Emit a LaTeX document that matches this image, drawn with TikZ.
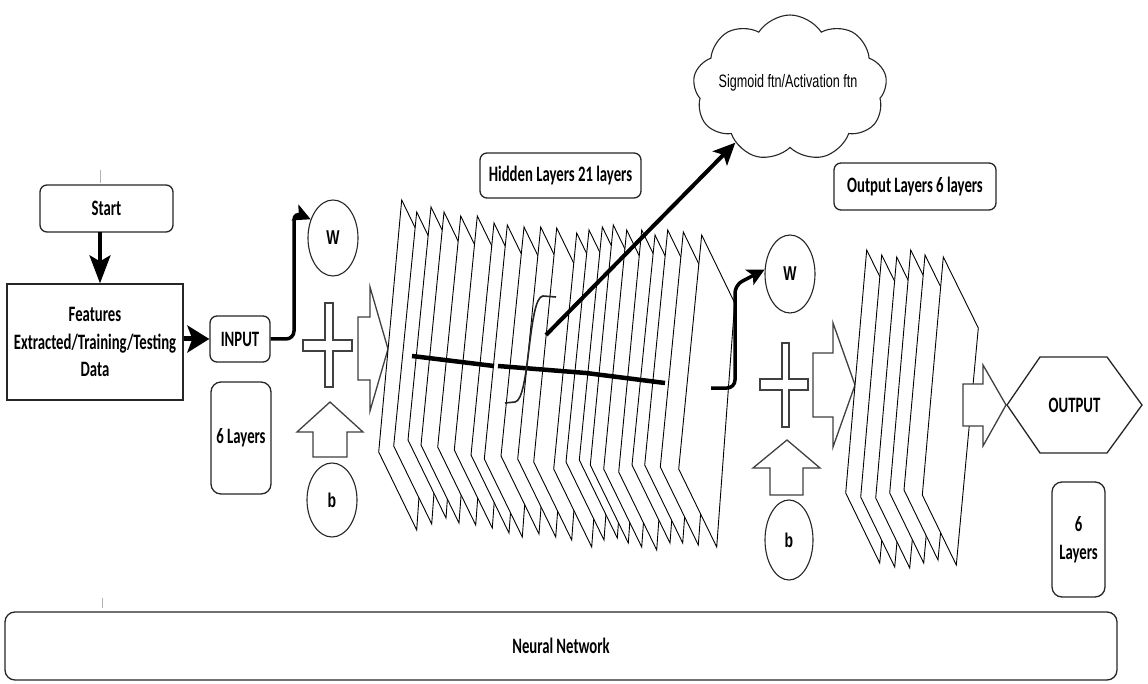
\documentclass[tikz,border=0pt]{standalone}
\usepackage{fontspec}
\usetikzlibrary{arrows.meta,shapes.geometric,shapes.symbols,calc}
\newfontfamily\lblfont{Carlito}[FakeStretch=0.67]
\newfontfamily\arfont{Liberation Sans}[FakeStretch=0.7]
\begin{document}
\begin{tikzpicture}[x=1pt,y=-1pt,
  box/.style={draw=black!85, line width=1.3pt, rounded corners=7pt, fill=white, inner sep=0pt, align=center, font=\lblfont\bfseries\fontsize{22}{27.5}\selectfont},
  circ/.style={draw=black!85, line width=1.1pt, ellipse, inner sep=0pt, font=\arfont\bfseries\fontsize{20}{22}\selectfont},
  layer/.style={draw=black, line width=0.9pt, fill=white, line join=miter},
  blk/.style={draw=black!75, line width=1.3pt, fill=white},
  conn/.style={line width=3.5pt, -{Stealth[length=17pt,width=17pt,inset=4pt]}},
]
\useasboundingbox (0,0) rectangle (1148,684);
\fill[white] (0,0) rectangle (1148,684);
% faint ticks
\draw[black!30, line width=0.8pt] (100,170) -- (100,183);
\draw[black!30, line width=0.8pt] (102,598) -- (102,608);

% left column
\node[box, minimum width=133pt, minimum height=47pt] (start) at (106.5,208.5) {Start};
\node[box, rounded corners=0pt, minimum width=176pt, minimum height=116pt] (feat) at (95,342) {Features\\Extracted/Training/Testing\\Data};
\node[box, minimum width=60pt, minimum height=46pt] (input) at (240,339) {INPUT};
\node[box, rounded corners=10pt, minimum width=60pt, minimum height=112pt] (lay1) at (241,438) {6 Layers};

\coordinate (sa) at (100,232);
\draw[line width=3.5pt, -{Stealth[length=28pt,width=21pt,inset=6pt]}] (sa) -- (sa |- feat.north);
\draw[line width=5pt, -{Stealth[length=22pt,width=27pt,inset=5pt]}] (feat.east |- input.west) -- (input.west);

% first W / + / b group
\node[circ, minimum width=50pt, minimum height=76pt] (w1) at (333,238) {W};
\node[circ, minimum width=50pt, minimum height=74pt] (b1) at (332,500) {b};
\draw[conn, rounded corners=8pt] (input.east) -- (294,339) -- (294,212) -- (w1.140);
\draw[blk] (325,303) -- (333,303) -- (333,340) -- (352,340) -- (352,351) -- (333,351) -- (333,387) -- (325,387) -- (325,351) -- (303,351) -- (303,340) -- (325,340) -- cycle;
\draw[blk] (330,402) -- (363,432) -- (347,432) -- (347,457) -- (313,457) -- (313,432) -- (297,432) -- cycle;
\draw[blk] (358,317) -- (370,317) -- (370,287) -- (388,349) -- (370,411) -- (370,380) -- (358,380) -- cycle;

% hidden layers
\foreach \xt/\yt/\yb in {401.7/200/530, 416.7/212/524, 431/207/518, 444/212/523, 460.7/216/525, 477.3/216/528, 494/223/533, 507.3/225/537, 524/227/534, 540.7/227/537, 556.7/228/540, 576.7/233/547, 589/230/540, 602.3/227/538, 613.3/225/543, 626.7/230/547, 641.7/230/550, 655/235/543, 667.7/230/543, 683.3/232/545, 701.7/235/547} {
  \draw[layer] (\xt,\yt) -- (\xt+33,\yt+68) -- (\xt+15,\yb) -- (\xt-23,\yb-78) -- cycle;
}
\draw[line width=4.5pt] (412,356) -- (494,366);
\draw[line width=4.5pt] (498,366) -- (586,373) -- (665,383);
\draw[line width=1.6pt, black!85] (505,403) -- (515,402) .. controls (530,400) and (528,297) .. (543,296) -- (556,297);

\node[box, minimum width=161pt, minimum height=45pt] (hid) at (560.5,175.5) {Hidden Layers 21 layers};

% cloud
\node[cloud, draw=black!85, line width=1.1pt, fill=white, cloud puffs=9, cloud puff arc=115, aspect=1.3, minimum width=194pt, minimum height=146pt, inner sep=0pt] (cloud) at (790,88) {};
\node[inner sep=0pt, font=\arfont\fontsize{18}{20}\selectfont] (cloudtxt) at (788,83) {Sigmoid ftn/Activation ftn};
\coordinate (sg) at (546,335);
\draw[line width=4pt, -{Stealth[length=22pt,width=20pt,inset=5pt]}] (sg) -- (cloud.225);

% second W / + / b group
\node[circ, minimum width=50pt, minimum height=78pt] (w2) at (790,274) {W};
\node[circ, minimum width=48pt, minimum height=80pt] (b2) at (789,540) {b};
\coordinate (s2) at (711,388);
\draw[conn, rounded corners=8pt] (s2) -- (735,388) -- (735,285) -- (w2.170);
\draw[blk] (782,343) -- (789,343) -- (789,379) -- (808,379) -- (808,390) -- (789,390) -- (789,427) -- (782,427) -- (782,390) -- (760,390) -- (760,379) -- (782,379) -- cycle;
\draw[blk] (787,440) -- (820,468) -- (803,468) -- (803,495) -- (770,495) -- (770,468) -- (753,468) -- cycle;
\draw[blk] (813,353) -- (833,353) -- (833,323) -- (855,385) -- (833,447) -- (833,417) -- (813,417) -- cycle;

% output layers
\foreach \xt/\yt/\yb in {866.7/250/563, 881.7/255/567, 896.7/257/568, 910.7/250/563, 925/255/560, 943.3/257/565} {
  \draw[layer] (\xt,\yt) -- (\xt+35,\yt+71) -- (\xt+13,\yb) -- (\xt-21,\yb-70) -- cycle;
}
\node[box, minimum width=162pt, minimum height=47pt] (outl) at (915,186.5) {Output Layers 6 layers};
\draw[blk] (963,384) -- (983,384) -- (983,365) -- (1006,405) -- (983,446) -- (983,426) -- (963,426) -- cycle;

% output hexagon
\draw[blk, draw=black!85] (1007,405) -- (1040,357) -- (1107,357) -- (1142,405) -- (1107,453) -- (1040,453) -- cycle;
\node[font=\lblfont\bfseries\fontsize{22}{27.5}\selectfont, inner sep=0pt] (outp) at (1074.5,405) {OUTPUT};
\node[box, rounded corners=10pt, minimum width=53pt, minimum height=115pt] (lay2) at (1078.5,539.5) {6\\Layers};

% bottom bar
\node[box, rounded corners=10pt, minimum width=1112pt, minimum height=68pt] (nn) at (561,646) {Neural Network};
\end{tikzpicture}
\end{document}
